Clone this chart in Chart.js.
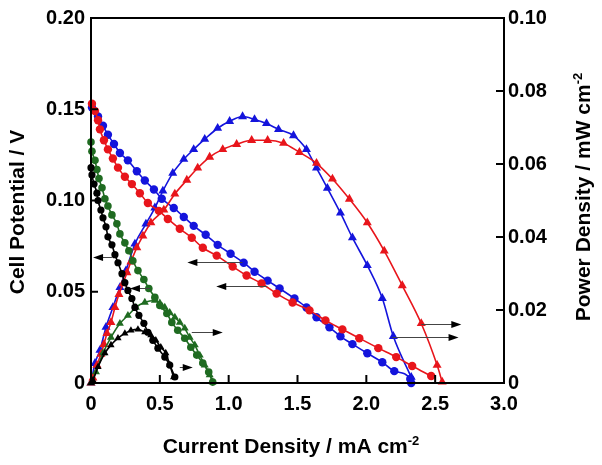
<!DOCTYPE html>
<html>
<head>
<meta charset="utf-8">
<script src="https://cdn.jsdelivr.net/npm/chart.js@4.4.1/dist/chart.umd.min.js"></script>
<style>
  html, body { margin: 0; padding: 0; background: #fff; }
  canvas { display: block; }
</style>
</head>
<body>
<canvas id="grafico" width="602" height="465"></canvas>
<script>
// tick labels
const xTickLabels = ["0", "0.5", "1.0", "1.5", "2.0", "2.5", "3.0"];
const yTickLabels = ["0", "0.05", "0.10", "0.15", "0.20"];
const y1TickLabels = ["0", "0.02", "0.04", "0.06", "0.08", "0.10"];

// polarization curves (current density mA cm-2, cell potential V)
const blackCurI = [0, 0.007, 0.022, 0.043, 0.051, 0.072, 0.087, 0.109, 0.123, 0.152, 0.174, 0.196, 0.225, 0.246, 0.268, 0.297, 0.319, 0.348, 0.384, 0.413, 0.449, 0.486, 0.536, 0.572, 0.609];
const blackCurV = [0.118, 0.114, 0.109, 0.104, 0.100, 0.0948, 0.0905, 0.0856, 0.0801, 0.0757, 0.0703, 0.0659, 0.0599, 0.0550, 0.0507, 0.0463, 0.0414, 0.0371, 0.0327, 0.0278, 0.0234, 0.0191, 0.0142, 0.0098, 0.0033];

const greenCurI = [0, 0.007, 0.029, 0.043, 0.058, 0.080, 0.101, 0.123, 0.152, 0.188, 0.210, 0.246, 0.275, 0.304, 0.341, 0.384, 0.420, 0.464, 0.500, 0.551, 0.587, 0.630, 0.681, 0.725, 0.768, 0.812, 0.855, 0.884];
const greenCurV = [0.132, 0.127, 0.122, 0.117, 0.112, 0.107, 0.101, 0.0970, 0.0921, 0.0872, 0.0817, 0.0768, 0.0725, 0.0670, 0.0616, 0.0567, 0.0518, 0.0469, 0.0425, 0.0381, 0.0332, 0.0289, 0.0245, 0.0196, 0.0153, 0.0109, 0.0060, 0.0005];

const blueCurI = [0.007, 0.051, 0.087, 0.123, 0.167, 0.210, 0.268, 0.333, 0.391, 0.457, 0.514, 0.601, 0.674, 0.746, 0.833, 0.920, 1.014, 1.109, 1.188, 1.283, 1.370, 1.478, 1.565, 1.638, 1.732, 1.812, 1.899, 2.007, 2.116, 2.203, 2.319, 2.326];
const blueCurV = [0.151, 0.146, 0.141, 0.136, 0.131, 0.126, 0.122, 0.116, 0.111, 0.106, 0.101, 0.0959, 0.0910, 0.0861, 0.0812, 0.0757, 0.0708, 0.0659, 0.0610, 0.0561, 0.0518, 0.0463, 0.0414, 0.0360, 0.0305, 0.0256, 0.0213, 0.0163, 0.0114, 0.0065, 0.0022, 0.0000];

const redCurI = [0.007, 0.029, 0.051, 0.065, 0.094, 0.123, 0.159, 0.196, 0.246, 0.297, 0.355, 0.413, 0.493, 0.558, 0.645, 0.732, 0.812, 0.913, 1.029, 1.130, 1.239, 1.348, 1.464, 1.587, 1.703, 1.826, 1.949, 2.087, 2.217, 2.333, 2.471];
const redCurV = [0.153, 0.149, 0.144, 0.139, 0.133, 0.128, 0.123, 0.118, 0.113, 0.109, 0.104, 0.0986, 0.0943, 0.0899, 0.0845, 0.0796, 0.0741, 0.0698, 0.0638, 0.0589, 0.0545, 0.0490, 0.0441, 0.0398, 0.0343, 0.0294, 0.0245, 0.0191, 0.0142, 0.0093, 0.0038];

// power curves (current density mA cm-2, power density mW cm-2)
const blackPwrI = [0, 0.014, 0.051, 0.101, 0.145, 0.196, 0.246, 0.290, 0.341, 0.391, 0.435, 0.471, 0.507, 0.543, 0.572, 0.600];
const blackPwrP = [0, 0.0008, 0.0044, 0.0082, 0.0104, 0.0123, 0.0136, 0.0144, 0.0147, 0.0139, 0.0131, 0.0117, 0.0098, 0.0082, 0.0050, 0.0016];

const greenPwrI = [0, 0.036, 0.087, 0.145, 0.210, 0.268, 0.326, 0.391, 0.464, 0.500, 0.536, 0.572, 0.609, 0.645, 0.681, 0.717, 0.754, 0.790, 0.826, 0.862, 0.884];
const greenPwrP = [0, 0.0030, 0.0082, 0.0125, 0.0163, 0.0185, 0.0207, 0.0221, 0.0226, 0.0219, 0.0207, 0.0193, 0.0180, 0.0166, 0.0150, 0.0125, 0.0104, 0.0076, 0.0049, 0.0022, 0.0003];

const bluePwrI = [0, 0.029, 0.065, 0.109, 0.159, 0.210, 0.254, 0.319, 0.399, 0.464, 0.522, 0.594, 0.674, 0.746, 0.826, 0.920, 1.007, 1.101, 1.188, 1.275, 1.362, 1.471, 1.565, 1.638, 1.717, 1.812, 1.899, 2.007, 2.116, 2.196, 2.326];
const bluePwrP = [0, 0.0054, 0.0090, 0.0153, 0.0207, 0.0262, 0.0308, 0.0381, 0.0436, 0.0480, 0.0526, 0.0575, 0.0613, 0.0640, 0.0668, 0.0698, 0.0717, 0.0730, 0.0722, 0.0711, 0.0695, 0.0678, 0.0640, 0.0589, 0.0534, 0.0466, 0.0398, 0.0322, 0.0232, 0.0128, 0.0016];

const redPwrI = [0, 0.014, 0.043, 0.072, 0.094, 0.116, 0.145, 0.174, 0.203, 0.232, 0.261, 0.290, 0.333, 0.377, 0.435, 0.529, 0.609, 0.696, 0.775, 0.862, 0.957, 1.058, 1.167, 1.283, 1.399, 1.514, 1.638, 1.754, 1.877, 2.007, 2.130, 2.261, 2.399, 2.514, 2.551];
const redPwrP = [0, 0.0014, 0.0049, 0.0079, 0.0106, 0.0136, 0.0166, 0.0207, 0.0243, 0.0272, 0.0302, 0.0332, 0.0371, 0.0403, 0.0439, 0.0474, 0.0518, 0.0556, 0.0589, 0.0619, 0.0640, 0.0654, 0.0665, 0.0665, 0.0657, 0.0632, 0.0602, 0.0559, 0.0504, 0.0439, 0.0362, 0.0267, 0.0163, 0.0049, 0.0003];

// arrows telling which axis each curve uses: [from I, to I, value, axis]
const arrowNotes = [
  [0.152, 0.015, 0.069, "y"],
  [0.428, 0.283, 0.052, "y"],
  [1.10, 0.70, 0.0665, "y"],
  [1.28, 0.91, 0.0534, "y"],
  [0.645, 0.739, 0.0044, "y1"],
  [0.732, 0.957, 0.0139, "y1"],
  [2.40, 2.69, 0.0163, "y1"],
  [2.19, 2.67, 0.0125, "y1"]
];

const AZUL = "#1414dc";
const VERMELHO = "#e8151b";
const VERDE = "#1f6b21";
const PRETO = "#000000";
const fonteBase = '"Liberation Sans", Arial, Helvetica, sans-serif';

function pontos(xs, ys) {
  return xs.map((x, i) => ({ x: x, y: ys[i] }));
}

function serie(xs, ys, cor, estilo, raio, eixo, ordem) {
  return {
    data: pontos(xs, ys),
    yAxisID: eixo,
    borderColor: cor,
    backgroundColor: cor,
    pointBackgroundColor: cor,
    pointBorderColor: cor,
    pointBorderWidth: 0,
    pointStyle: estilo,
    pointRadius: raio,
    borderWidth: 1.6,
    showLine: true,
    tension: 0.3,
    cubicInterpolationMode: "monotone",
    clip: false,
    order: ordem
  };
}

function desenharTitulo(ctx, partes, x, y, angulo) {
  const fonteN = "bold 21px " + fonteBase;
  const fonteS = "bold 13px " + fonteBase;
  let largura = 0;
  partes.forEach(p => {
    ctx.font = p[1] ? fonteS : fonteN;
    largura += ctx.measureText(p[0]).width;
  });
  ctx.save();
  ctx.translate(x, y);
  ctx.rotate(angulo);
  ctx.fillStyle = "#000";
  ctx.textBaseline = "alphabetic";
  ctx.textAlign = "left";
  let cx = -largura / 2;
  partes.forEach(p => {
    ctx.font = p[1] ? fonteS : fonteN;
    ctx.fillText(p[0], cx, p[1] ? -1 : 7);
    cx += ctx.measureText(p[0]).width;
  });
  ctx.restore();
}

const decoracao = {
  id: "decoracao",
  afterDatasetsDraw(chart) {
    const ctx = chart.ctx;
    const sx = chart.scales.x;
    ctx.save();
    arrowNotes.forEach(a => {
      const sy = chart.scales[a[3]];
      const x0 = sx.getPixelForValue(a[0]);
      const x1 = sx.getPixelForValue(a[1]);
      const yy = Math.round(sy.getPixelForValue(a[2])) + 0.5;
      const dir = x1 > x0 ? 1 : -1;
      ctx.strokeStyle = "#444";
      ctx.lineWidth = 1;
      ctx.beginPath();
      ctx.moveTo(x0, yy);
      ctx.lineTo(x1 - dir * 6, yy);
      ctx.stroke();
      ctx.fillStyle = "#000";
      ctx.beginPath();
      ctx.moveTo(x1, yy);
      ctx.lineTo(x1 - dir * 10, yy - 3.5);
      ctx.lineTo(x1 - dir * 10, yy + 3.5);
      ctx.closePath();
      ctx.fill();
    });
    ctx.restore();
  },
  afterDraw(chart) {
    const ctx = chart.ctx;
    const a = chart.chartArea;
    const sx = chart.scales.x, sy = chart.scales.y, sy1 = chart.scales.y1;
    ctx.save();
    ctx.strokeStyle = "#000";
    ctx.lineWidth = 2;
    ctx.strokeRect(a.left, a.top, a.right - a.left, a.bottom - a.top);
    ctx.lineWidth = 2;
    ctx.beginPath();
    sx.ticks.forEach(t => {
      const px = sx.getPixelForValue(t.value);
      ctx.moveTo(px, a.bottom);
      ctx.lineTo(px, a.bottom - 8);
    });
    sy.ticks.forEach(t => {
      const py = sy.getPixelForValue(t.value);
      ctx.moveTo(a.left, py);
      ctx.lineTo(a.left + 7, py);
    });
    sy1.ticks.forEach(t => {
      const py = sy1.getPixelForValue(t.value);
      ctx.moveTo(a.right, py);
      ctx.lineTo(a.right - 8, py);
    });
    ctx.stroke();
    ctx.restore();

    desenharTitulo(ctx, [["Current Density / mA cm", false], ["-2", true]], 291, 446, 0);
    desenharTitulo(ctx, [["Cell Potential / V", false]], 17, 212, -Math.PI / 2);
    desenharTitulo(ctx, [["Power Density / mW cm", false], ["-2", true]], 583, 197, -Math.PI / 2);
  }
};

const fonteTicks = { family: fonteBase, size: 20, weight: "bold" };

new Chart(document.getElementById("grafico").getContext("2d"), {
  type: "line",
  data: {
    datasets: [
      serie(blackCurI, blackCurV, PRETO, "circle", 3.6, "y", 1),
      serie(blackPwrI, blackPwrP, PRETO, "triangle", 4.2, "y1", 2),
      serie(greenCurI, greenCurV, VERDE, "circle", 3.8, "y", 3),
      serie(greenPwrI, greenPwrP, VERDE, "triangle", 4.6, "y1", 4),
      serie(redCurI, redCurV, VERMELHO, "circle", 4.2, "y", 5),
      serie(redPwrI, redPwrP, VERMELHO, "triangle", 5.2, "y1", 6),
      serie(blueCurI, blueCurV, AZUL, "circle", 4.2, "y", 7),
      serie(bluePwrI, bluePwrP, AZUL, "triangle", 5.2, "y1", 8)
    ]
  },
  options: {
    responsive: false,
    animation: false,
    layout: { padding: { top: 16, left: 0, right: 0, bottom: 0 } },
    plugins: {
      legend: { display: false },
      tooltip: { enabled: false },
      title: { display: false }
    },
    scales: {
      x: {
        type: "linear",
        min: 0,
        max: 3,
        afterFit(s) { s.height = 82; },
        grid: { display: false, drawTicks: false },
        border: { display: false },
        ticks: {
          stepSize: 0.5,
          padding: 9,
          color: "#000",
          font: fonteTicks,
          maxRotation: 0,
          callback: (v, i) => xTickLabels[i]
        }
      },
      y: {
        position: "left",
        min: 0,
        max: 0.2,
        afterFit(s) { s.width = 91; },
        grid: { display: false, drawTicks: false },
        border: { display: false },
        ticks: {
          stepSize: 0.05,
          padding: 6,
          color: "#000",
          font: fonteTicks,
          callback: (v, i) => yTickLabels[i]
        }
      },
      y1: {
        position: "right",
        min: 0,
        max: 0.1,
        afterFit(s) { s.width = 98; },
        grid: { display: false, drawTicks: false },
        border: { display: false },
        ticks: {
          stepSize: 0.02,
          padding: 4,
          color: "#000",
          font: fonteTicks,
          callback: (v, i) => y1TickLabels[i]
        }
      }
    }
  },
  plugins: [decoracao]
});
</script>
</body>
</html>
